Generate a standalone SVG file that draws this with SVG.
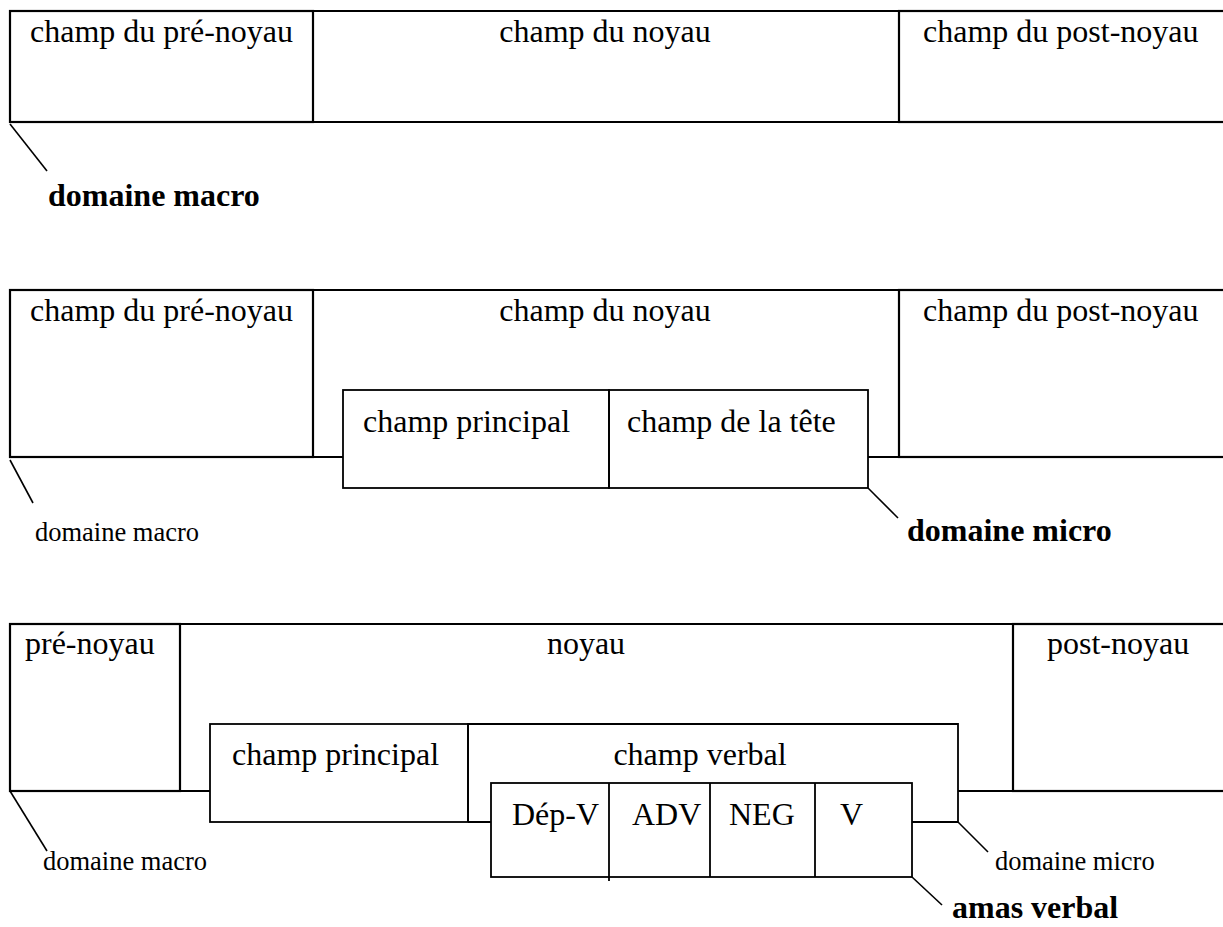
<svg xmlns="http://www.w3.org/2000/svg" width="1223" height="927" viewBox="0 0 1223 927">
<style>
.o{fill:none;stroke:#000;stroke-width:2.2}
.i{fill:none;stroke:#000;stroke-width:1.8}
.c{fill:none;stroke:#000;stroke-width:1.6}
text{font-family:"Liberation Serif","Times New Roman",serif;fill:#000}
.t{font-size:32px}
.b{font-size:32px;font-weight:bold}
.s{font-size:26.5px}
.m{text-anchor:middle}
</style>
<rect x="0" y="0" width="1223" height="927" fill="#fff"/>
<!-- Diagram 1 -->
<g id="d1-pre"><rect class="o" x="10" y="11" width="303" height="111"/><text class="t" x="30" y="42">champ du pré-noyau</text></g>
<g id="d1-noyau"><path class="o" d="M313,11 H899 M313,122 H899"/><text class="t m" x="605" y="42">champ du noyau</text></g>
<g id="d1-post"><rect class="o" x="899" y="11" width="340" height="111"/><text class="t" x="923" y="42">champ du post-noyau</text></g>
<g id="d1-macro"><text class="b" x="48" y="206">domaine macro</text></g>
<!-- Diagram 2 -->
<g id="d2-pre"><rect class="o" x="10" y="290" width="303" height="167"/><text class="t" x="30" y="321">champ du pré-noyau</text></g>
<g id="d2-noyau"><path class="o" d="M313,290 H899 M313,457 H343 M868,457 H899"/><text class="t m" x="605" y="321">champ du noyau</text></g>
<g id="d2-post"><rect class="o" x="899" y="290" width="340" height="167"/><text class="t" x="923" y="321">champ du post-noyau</text></g>
<g id="d2-principal"><rect class="i" x="343" y="390" width="266" height="98"/><text class="t" x="363" y="432">champ principal</text></g>
<g id="d2-tete"><rect class="i" x="609" y="390" width="259" height="98"/><text class="t" x="627" y="432">champ de la tête</text></g>
<g id="d2-macro"><text class="s" x="35" y="541">domaine macro</text></g>
<g id="d2-micro"><text class="b" x="907" y="541">domaine micro</text></g>
<!-- Diagram 3 -->
<g id="d3-pre"><rect class="o" x="10" y="624" width="170" height="167"/><text class="t" x="25" y="654">pré-noyau</text></g>
<g id="d3-noyau"><path class="o" d="M180,624 H1013 M180,791 H210 M958,791 H1013"/><text class="t m" x="586" y="654">noyau</text></g>
<g id="d3-post"><rect class="o" x="1013" y="624" width="230" height="167"/><text class="t" x="1047" y="654">post-noyau</text></g>
<g id="d3-principal"><rect class="i" x="210" y="724" width="258" height="98"/><text class="t" x="232" y="765">champ principal</text></g>
<g id="d3-verbal"><path class="i" d="M468,822 H491 M912,822 H958 V724 H468 V822"/><text class="t m" x="700" y="765">champ verbal</text></g>
<g id="d3-amas"><rect class="i" x="491" y="783" width="421" height="94"/><path class="i" d="M609,783 V881 M710,783 V877 M815,783 V877"/>
<text class="t" x="512" y="825">Dép-V</text><text class="t" x="632" y="825">ADV</text><text class="t" x="729" y="825">NEG</text><text class="t" x="840" y="825">V</text></g>
<g id="d3-macro"><text class="s" x="43" y="870">domaine macro</text></g>
<g id="d3-micro"><text class="s" x="995" y="870">domaine micro</text></g>
<g id="d3-amaslabel"><text class="b" x="952" y="918">amas verbal</text></g>
<!-- connectors -->
<g id="connectors">
<path class="c" d="M10,124 L47,171"/>
<path class="c" d="M10,460 L33,503"/>
<path class="c" d="M868,488 L898,518"/>
<path class="c" d="M10,791 L47,851"/>
<path class="c" d="M958,822 L988,852"/>
<path class="c" d="M912,877 L942,905"/>
</g>
</svg>
